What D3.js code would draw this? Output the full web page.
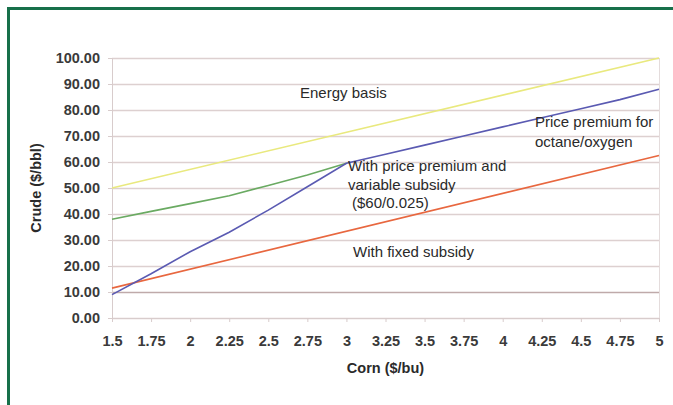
<!DOCTYPE html>
<html>
<head>
<meta charset="utf-8">
<script src="https://cdn.jsdelivr.net/npm/d3@7"></script>
<style>
  html, body { margin: 0; padding: 0; background: #fff; }
  svg { display: block; }
  text { font-family: "Liberation Sans", Arial, sans-serif; }
</style>
</head>
<body>
<svg id="chart" width="673" height="405"></svg>
<script>
// ---- Data ----
const xTicks = [1.5, 1.75, 2, 2.25, 2.5, 2.75, 3, 3.25, 3.5, 3.75, 4, 4.25, 4.5, 4.75, 5];
const yTicks = [0, 10, 20, 30, 40, 50, 60, 70, 80, 90, 100];

const energyX = [1.5, 5];
const energyY = [50, 100];

const premiumSubsidyX = [1.5, 1.75, 2, 2.25, 2.5, 2.75, 3];
const premiumSubsidyY = [38, 41, 44, 47, 51, 55, 59.5];

const octaneX = [1.5, 1.75, 2, 2.25, 2.5, 2.75, 3, 3.25, 3.5, 3.75, 4, 4.25, 4.5, 4.75, 5];
const octaneY = [9, 17, 25.5, 33, 41.5, 50.5, 59.5, 63, 66.5, 70, 73.5, 77, 80.5, 84, 88];

const fixedX = [1.5, 5];
const fixedY = [11.5, 62.5];

const xTitle = "Corn ($/bu)";
const yTitle = "Crude ($/bbl)";

// ---- Drawing ----
const svg = d3.select("#chart");

// green frame
svg.append("path")
  .attr("d", "M8.5,420 L8.5,8.5 L690,8.5")
  .attr("fill", "none")
  .attr("stroke", "#17704a")
  .attr("stroke-width", 3);

const x = d3.scaleLinear().domain([1.5, 5]).range([112, 659]);
const y = d3.scaleLinear().domain([0, 100]).range([318, 58]);

// gridlines
svg.append("g").selectAll("line").data(yTicks).join("line")
  .attr("x1", x(1.5)).attr("x2", x(5))
  .attr("y1", d => y(d) + 0.5).attr("y2", d => y(d) + 0.5)
  .attr("stroke", d => d === 10 ? "#bfaaaa" : "#ddd0d0")
  .attr("stroke-width", 1.4);

// right border
svg.append("line")
  .attr("x1", x(5) + 0.5).attr("x2", x(5) + 0.5)
  .attr("y1", y(100)).attr("y2", y(0))
  .attr("stroke", "#e4dcdc").attr("stroke-width", 1);

// y axis
const yAxis = d3.axisLeft(y).tickValues(yTicks).tickFormat(d3.format(".2f")).tickSize(4).tickPadding(8);
const gy = svg.append("g").attr("transform", `translate(${x(1.5)},0)`).call(yAxis);
gy.select(".domain").attr("stroke", "#d8cccc");
gy.selectAll(".tick line").attr("stroke", "#d8cccc");
gy.selectAll(".tick text")
  .attr("font-size", 14.5).attr("font-weight", "bold").attr("fill", "#3a3a3a")
  .style("font-family", "'Liberation Sans', Arial, sans-serif");

// x axis
const xAxis = d3.axisBottom(x).tickValues(xTicks).tickFormat(d => String(d)).tickSize(4).tickPadding(14);
const gx = svg.append("g").attr("transform", `translate(0,${y(0)})`).call(xAxis);
gx.select(".domain").attr("stroke", "#d8cccc");
gx.selectAll(".tick line").attr("stroke", "#d8cccc");
gx.selectAll(".tick text")
  .attr("font-size", 14.5).attr("font-weight", "bold").attr("fill", "#3a3a3a")
  .style("font-family", "'Liberation Sans', Arial, sans-serif");

// axis titles
svg.append("text")
  .attr("transform", `translate(41,${(y(0) + y(100)) / 2}) rotate(-90)`)
  .attr("text-anchor", "middle")
  .attr("font-size", 14.5).attr("font-weight", "bold").attr("fill", "#2a2a2a")
  .text(yTitle);

svg.append("text")
  .attr("x", (x(1.5) + x(5)) / 2).attr("y", 373)
  .attr("text-anchor", "middle")
  .attr("font-size", 14.5).attr("font-weight", "bold").attr("fill", "#2a2a2a")
  .text(xTitle);

// series lines
const line = d3.line().x(d => x(d[0])).y(d => y(d[1]));
const series = [
  { xs: energyX, ys: energyY, color: "#e9e97e" },
  { xs: fixedX, ys: fixedY, color: "#e8673f" },
  { xs: premiumSubsidyX, ys: premiumSubsidyY, color: "#6aaa62" },
  { xs: octaneX, ys: octaneY, color: "#5a5ab2" }
];
series.forEach(s => {
  svg.append("path")
    .datum(s.xs.map((v, i) => [v, s.ys[i]]))
    .attr("fill", "none")
    .attr("stroke", s.color)
    .attr("stroke-width", 1.6)
    .attr("d", line);
});

// annotations
const ann = svg.append("g").attr("font-size", 15).attr("fill", "#2a2a2a");
function note(lines, px, py, lh) {
  const t = ann.append("text").attr("x", px).attr("y", py);
  lines.forEach((l, i) => {
    t.append("tspan").attr("x", px + (l.dx || 0)).attr("dy", i === 0 ? 0 : lh).text(l.t);
  });
}
note([{ t: "Energy basis" }], 300, 98, 18);
note([{ t: "Price premium for" }, { t: "octane/oxygen" }], 535, 127, 20);
note([{ t: "With price premium and" }, { t: "variable subsidy" }, { t: "($60/0.025)", dx: 4 }], 348, 171, 18.5);
note([{ t: "With fixed subsidy" }], 353, 257, 18);
</script>
</body>
</html>
